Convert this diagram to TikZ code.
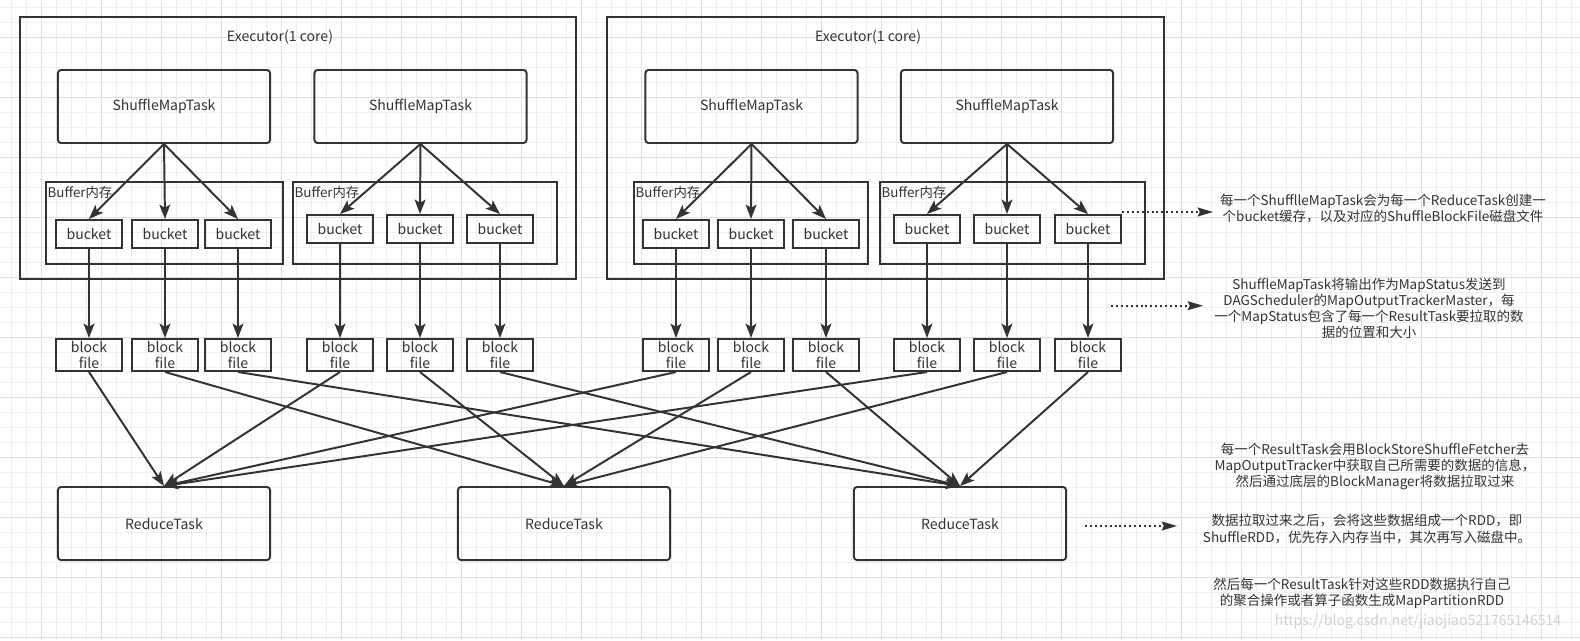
\documentclass[tikz,border=0pt]{standalone}
\usepackage{fontspec}
\setmainfont{Noto Sans CJK SC}
\usetikzlibrary{arrows.meta}

\definecolor{ink}{HTML}{333333}
\definecolor{gridminor}{HTML}{EFEFEF}
\definecolor{gridmajor}{HTML}{E0E0E0}

\begin{document}
\begin{tikzpicture}[x=0.025cm, y=-0.025cm,
    every node/.style={font=\fontsize{10}{11.4}\selectfont, text=ink},
    frame/.style={draw=ink, line width=1.4pt, minimum width=13.9cm, minimum height=6.55cm},
    maptask/.style={draw=ink, line width=1.4pt, rounded corners=0.075cm, minimum width=5.3cm, minimum height=1.825cm},
    reducetask/.style={maptask},
    buffer/.style={draw=ink, line width=1.4pt, minimum height=2.05cm},
    bufferlabel/.style={anchor=north west, inner sep=0pt, font=\fontsize{9.5}{11}\selectfont},
    bucket/.style={draw=ink, line width=1.4pt, minimum width=1.65cm, minimum height=0.7cm, inner sep=0pt},
    blockfile/.style={draw=ink, line width=1.4pt, minimum width=1.65cm, minimum height=0.8cm, inner sep=0pt, align=center},
    note/.style={align=center, font=\fontsize{9.6}{11.5}\selectfont},
    flow/.style={draw=ink, line width=1.4pt, -{Stealth[length=0.36cm, width=0.27cm, inset=0.08cm]}},
    hint/.style={flow, dash pattern=on 1.4pt off 2.1pt, -{Stealth[length=0.38cm, width=0.22cm, inset=0.05cm]}}
  ]
  \useasboundingbox (0,0) rectangle (1580,640);
  \fill [white] (0,0) rectangle (1580,640);
  % background grid
  \foreach \k in {0,...,105}
    \draw [gridminor, line width=0.7pt] ({11.7+15*\k},0) -- ({11.7+15*\k},640);
  \foreach \k in {0,...,42}
    \draw [gridminor, line width=0.7pt] (0,{7.3+15*\k}) -- (1580,{7.3+15*\k});
  \foreach \k in {0,...,25}
    \draw [gridmajor, line width=0.7pt] ({41.7+60*\k},0) -- ({41.7+60*\k},640);
  \foreach \k in {0,...,10}
    \draw [gridmajor, line width=0.7pt] (0,{37.3+60*\k}) -- (1580,{37.3+60*\k});

  % executors
  \node [frame] (exec1) at (298,148) {};
  \node [frame] (exec2) at (885.5,148) {};
  \node (exec1label) at (280,37) {Executor(1 core)};
  \node (exec2label) at (868,37) {Executor(1 core)};

  \node [maptask] (map11) at (164,106.5) {ShuffleMapTask};
  \node [maptask] (map12) at (420.5,106.5) {ShuffleMapTask};
  \node [maptask] (map21) at (751.5,106.5) {ShuffleMapTask};
  \node [maptask] (map22) at (1007,106.5) {ShuffleMapTask};

  \node [buffer, minimum width=5.925cm] (buf11) at (164.5,223) {};
  \node [buffer, minimum width=6.6cm] (buf12) at (425,223) {};
  \node [buffer, minimum width=5.85cm] (buf21) at (751,223) {};
  \node [buffer, minimum width=6.625cm] (buf22) at (1012.5,223) {};
  \foreach \b in {buf11,buf12,buf21,buf22}
    \node [bufferlabel] (\b label) at ([xshift=0.06cm, yshift=-0.12cm]\b.north west) {Buffer内存};

  % buckets and block files
  \foreach \x/\y [count=\i] in {89/234, 165/234, 238/234, 340/229, 420/229, 500/229,
                                676/234, 751/234, 826/234, 927/229, 1007/229, 1088/229} {
    \node [bucket] (bucket\i) at (\x,\y) {bucket};
    \node [blockfile] (block\i) at (\x,355) {block\\file};
    \draw [flow] (bucket\i) -- (block\i);
  }

  \foreach \m/\i in {map11/1, map11/2, map11/3, map12/4, map12/5, map12/6,
                     map21/7, map21/8, map21/9, map22/10, map22/11, map22/12}
    \draw [flow] (\m.south) -- (bucket\i.north);

  \node [reducetask] (reduce1) at (164,523.5) {ReduceTask};
  \node [reducetask] (reduce2) at (564,523.5) {ReduceTask};
  \node [reducetask] (reduce3) at (960,523.5) {ReduceTask};

  \foreach \i in {1,...,12} {
    \pgfmathtruncatemacro\r{mod(\i-1,3)+1}
    \draw [flow] (block\i.south) -- (reduce\r.north);
  }

  % notes on the right
  \coordinate (hint1a) at (1122,212);
  \coordinate (hint1b) at (1213,212);
  \coordinate (hint2a) at (1111,305.7);
  \coordinate (hint2b) at (1203,305.7);
  \coordinate (hint3a) at (1085,526);
  \coordinate (hint3b) at (1177,526);
  \draw [hint] (hint1a) -- (hint1b);
  \draw [hint] (hint2a) -- (hint2b);
  \draw [hint] (hint3a) -- (hint3b);

  \node [note] (note1) at (1383,208.5) {每一个ShufflleMapTask会为每一个ReduceTask创建一\\个bucket缓存，以及对应的ShuffleBlockFile磁盘文件};
  \node [note] (note2) at (1369,308.5) {ShuffleMapTask将输出作为MapStatus发送到\\DAGScheduler的MapOutputTrackerMaster，每\\一个MapStatus包含了每一个ResultTask要拉取的数\\据的位置和大小};
  \node [note] (note3) at (1375,466.5) {每一个ResultTask会用BlockStoreShuffleFetcher去\\MapOutputTracker中获取自己所需要的数据的信息，\\然后通过底层的BlockManager将数据拉取过来};
  \node [note] (note4) at (1367,529) {数据拉取过来之后，会将这些数据组成一个RDD，即\\ShuffleRDD，优先存入内存当中，其次再写入磁盘中。};
  \node [note] (note5) at (1362,593.5) {然后每一个ResultTask针对这些RDD数据执行自己\\的聚合操作或者算子函数生成MapPartitionRDD};
  \node [text=gray!35, font=\fontsize{10}{12}\selectfont] (mark) at (1418,622) {https://blog.csdn.net/jiaojiao521765146514};
\end{tikzpicture}
\end{document}
